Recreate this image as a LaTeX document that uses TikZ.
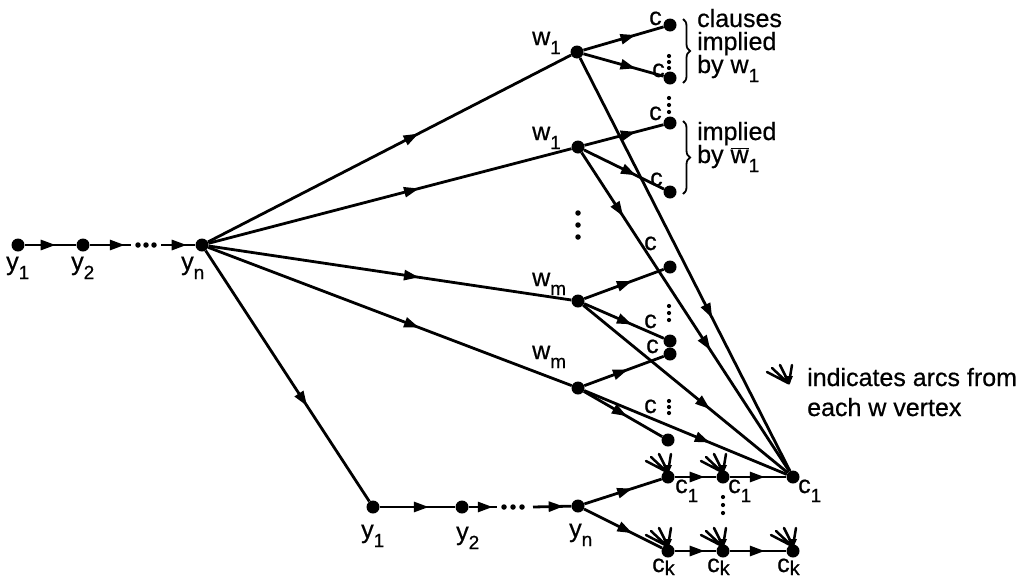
\documentclass[tikz,border=0pt]{standalone}
\usepackage{fontspec}
\setmainfont{Liberation Sans}[FakeBold=0.6]
\usetikzlibrary{arrows.meta,decorations.markings,decorations.pathreplacing}
\newcommand\lbl[2]{#1\raisebox{-9pt}{\fontsize{19}{19}\selectfont #2}}
\begin{document}
\begin{tikzpicture}[x=1pt,y=-1pt,
 v/.style={circle,fill,inner sep=0pt,minimum size=13pt},
 e/.style={line width=2.8pt},
 am/.style={postaction={decorate},decoration={markings,mark=at position #1 with {\arrow{Triangle[length=15pt,width=10pt]}}}},
 amm/.style 2 args={postaction={decorate},decoration={markings,
   mark=at position #1 with {\arrow{Triangle[length=15pt,width=10pt]}},
   mark=at position #2 with {\arrow{Triangle[length=15pt,width=10pt]}}}},
 lab/.style={anchor=base west,inner sep=0pt,font=\fontsize{25}{25}\selectfont},
 txt/.style={anchor=base west,inner sep=0pt,font=\fontsize{25}{25}\selectfont},
 sdot/.style={fill,circle,inner sep=0pt,minimum size=4.2pt},
 bdot/.style={fill,circle,inner sep=0pt,minimum size=5.5pt},
 fan/.pic={
   \draw[line width=2.5pt,line cap=round]
     (-22,-16) -- (-1,-5) (-17,-20) -- (-1,-5) (-9,-23) -- (0,-5) (3,-23) -- (0,-5);
   \fill (-5,-12) -- (4,-12) -- (0,-3) -- cycle;
 },
 brc/.style={decorate,decoration={brace,amplitude=7pt},line width=1.8pt}
 ]
\useasboundingbox (0,0) rectangle (1036,587);
% top chain
\node[v] (ya1) at (18,245) {};
\node[v] (ya2) at (83,245) {};
\node[v] (yan) at (202,245) {};
\coordinate (ya2e) at (131,245);
\coordinate (yans) at (161,245);
\foreach \x in {138,146,154} \node[bdot] at (\x,245) {};
\draw[e,am=0.6] (ya1) -- (ya2);
\draw[e,am=0.85] (ya2) -- (ya2e);
\draw[e,am=0.75] (yans) -- (yan);
\node[lab] at (6,270) {\lbl{y}{1}};
\node[lab] at (71,270) {\lbl{y}{2}};
\node[lab] at (181,270) {\lbl{y}{n}};
% w vertices
\node[v] (w1a) at (577,52) {};
\node[v] (w1b) at (578,147) {};
\node[v] (wma) at (578,301) {};
\node[v] (wmb) at (578,388) {};
\node[lab] at (532,45) {\lbl{w}{1}};
\node[lab] at (532,140) {\lbl{w}{1}};
\node[lab] at (532,286) {\lbl{w}{m}};
\node[lab] at (532,359) {\lbl{w}{m}};
\foreach \y in {213,225,237} \node[bdot] at (578,\y) {};
% clause vertices
\node[v] (ca) at (670,25) {};
\node[v] (cb) at (670,78) {};
\node[v] (cc) at (670,123) {};
\node[v] (cd) at (670,192) {};
\node[v] (ce) at (670,267) {};
\node[v] (cf) at (670,341) {};
\node[v] (cg) at (670,354) {};
\node[v] (ch) at (668,440) {};
\node[lab] at (649,25) {c};
\node[lab] at (652,77) {c};
\node[lab] at (649,120) {c};
\node[lab] at (650,186) {c};
\node[lab] at (644,250) {c};
\node[lab] at (644,328) {c};
\node[lab] at (646,353) {c};
\node[lab] at (644,413) {c};
\foreach \y in {56,62,68,98,105,112,306,313,320,401,407,413} \node[sdot] at (669,\y) {};
% from yn
\draw[e,am=0.58] (yan) -- (w1a);
\draw[e,am=0.58] (yan) -- (w1b);
\draw[e,am=0.58] (yan) -- (wma);
\draw[e,am=0.58] (yan) -- (wmb);
% w to c
\draw[e,am=0.65] (w1a) -- (ca);
\draw[e,am=0.65] (w1a) -- (cb);
\draw[e,am=0.65] (w1b) -- (cc);
\draw[e,am=0.65] (w1b) -- (cd);
\draw[e,am=0.6] (wma) -- (ce);
\draw[e,am=0.6] (wma) -- (cf);
\draw[e,am=0.55] (wmb) -- (cg);
\draw[e,am=0.55] (wmb) -- (ch);
% bottom chain
\node[v] (yb1) at (373,507) {};
\node[v] (yb2) at (462,507) {};
\node[v] (ybn) at (578,506) {};
\coordinate (yb2e) at (497,507);
\coordinate (ybns) at (533,507);
\foreach \x in {504,513,522} \node[bdot] at (\x,507) {};
\draw[e,am=0.62] (yan) -- (yb1);
\draw[e,am=0.65] (yb1) -- (yb2);
\draw[e,am=0.85] (yb2) -- (yb2e);
\draw[e,am=0.8] (ybns) -- (ybn);
\node[lab] at (361,538) {\lbl{y}{1}};
\node[lab] at (456,540) {\lbl{y}{2}};
\node[lab] at (569,537) {\lbl{y}{n}};
% c1 and ck chains
\node[v] (c11) at (668,477) {};
\node[v] (c12) at (723,477) {};
\node[v] (c13) at (793,477) {};
\node[v] (ck1) at (668,551) {};
\node[v] (ck2) at (723,551) {};
\node[v] (ck3) at (793,551) {};
\draw[e,am=0.62] (ybn) -- (c11);
\draw[e,am=0.62] (ybn) -- (ck1);
\draw[e,am=0.72] (c11) -- (c12);
\draw[e,am=0.62] (c12) -- (c13);
\draw[e,am=0.72] (ck1) -- (ck2);
\draw[e,am=0.62] (ck2) -- (ck3);
\node[lab] at (675,493) {\lbl{c}{1}};
\node[lab] at (728,493) {\lbl{c}{1}};
\node[lab] at (798,493) {\lbl{c}{1}};
\node[lab] at (652,572) {c\raisebox{-3pt}{\fontsize{20}{20}\selectfont k}};
\node[lab] at (707,572) {c\raisebox{-3pt}{\fontsize{20}{20}\selectfont k}};
\node[lab] at (777,572) {c\raisebox{-3pt}{\fontsize{20}{20}\selectfont k}};
\foreach \y in {497,505,513} \node[sdot] at (723,\y) {};
% arcs from w vertices to c1
\draw[e,am=0.63] (w1a) -- (c13);
\draw[e,amm={0.2}{0.62}] (w1b) -- (c13);
\draw[e,am=0.62] (wma) -- (c13);
\draw[e,am=0.62] (wmb) -- (c13);
% fans
\foreach \p in {c11,c12,ck1,ck2,ck3} \pic at (\p) {fan};
\pic at (789,388) {fan};
% braces and text
\draw[brc] (683,19) -- (683,83);
\draw[brc] (683,121) -- (683,194);
\node[txt] at (697,27) {clauses};
\node[txt] at (697,50) {implied};
\node[txt] at (697,73) {by \lbl{w}{1}};
\node[txt] at (697,140) {implied};
\node[txt] at (697,163) {by \lbl{$\overline{\mbox{w}}$}{1}};
\node[txt] at (807,386) {indicates arcs from};
\node[txt] at (807,416) {each w vertex};
\end{tikzpicture}
\end{document}
